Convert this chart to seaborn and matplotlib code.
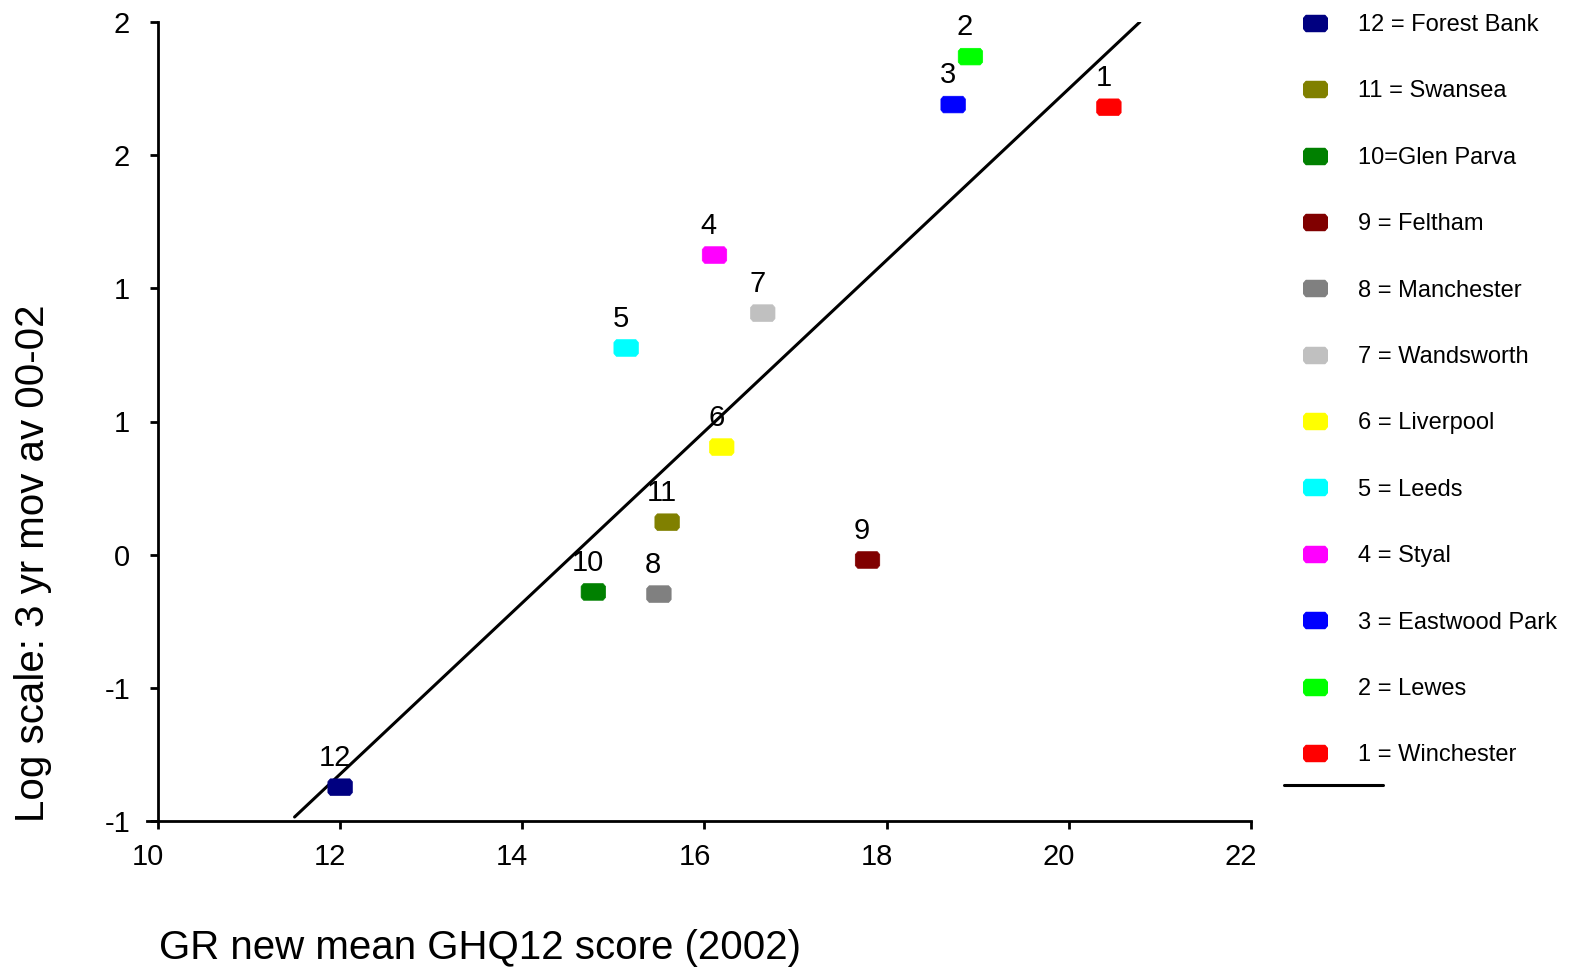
import matplotlib
matplotlib.use("Agg")
import matplotlib.pyplot as plt
import matplotlib.transforms as mtransforms
from matplotlib.lines import Line2D
import seaborn as sns
import pandas as pd

# data
prison_ids = [1, 2, 3, 4, 5, 6, 7, 8, 9, 10, 11, 12]
legend_labels = ["1 = Winchester", "2 = Lewes", "3 = Eastwood Park", "4 = Styal",
                 "5 = Leeds", "6 = Liverpool", "7 = Wandsworth", "8 = Manchester",
                 "9 = Feltham", "10=Glen Parva", "11 = Swansea", "12 = Forest Bank"]
ghq12_scores = [20.44, 18.92, 18.73, 16.11, 15.14, 16.19, 16.64, 15.50, 17.79, 14.78, 15.59, 12.00]
log_rates = [1.68, 1.87, 1.69, 1.125, 0.776, 0.404, 0.907, -0.148, -0.020, -0.140, 0.122, -0.873]
point_colors = ["#FF0000", "#00FF00", "#0000FF", "#FF00FF", "#00FFFF", "#FFFF00",
                "#C0C0C0", "#808080", "#800000", "#008000", "#808000", "#000080"]

fit_x = [11.5, 20.78]
fit_y = [-0.985, 2.0]

xticks = [10, 12, 14, 16, 18, 20, 22]
yticks = [-1.0, -0.5, 0.0, 0.5, 1.0, 1.5, 2.0]
ytick_labels = ["-1", "-1", "0", "1", "1", "2", "2"]

df = pd.DataFrame({"id": prison_ids, "label": legend_labels,
                   "ghq": ghq12_scores, "rate": log_rates})
palette = dict(zip(legend_labels, point_colors))

sns.set_style("ticks")
plt.rcParams["font.family"] = ["Liberation Sans", "DejaVu Sans"]
plt.rcParams["text.color"] = "black"
plt.rcParams["xtick.color"] = "black"
plt.rcParams["ytick.color"] = "black"
plt.rcParams["axes.edgecolor"] = "black"

# wide rounded blob like the original markers
blob = [(-1, -0.45), (-0.8, -0.68), (0.8, -0.68), (1, -0.45),
        (1, 0.45), (0.8, 0.68), (-0.8, 0.68), (-1, 0.45), (-1, -0.45)]

fig = plt.figure(figsize=(15.69, 9.73), dpi=100)
ax = fig.add_axes([147 / 1569, 1 - 821 / 973, (1251 - 147) / 1569, (821 - 22) / 973])

sns.lineplot(x=fit_x, y=fit_y, color="black", linewidth=2.2, ax=ax)
sns.scatterplot(data=df, x="ghq", y="rate", hue="label", palette=palette,
                marker=blob, s=310, edgecolor="face", linewidth=0.5,
                legend=False, ax=ax, zorder=3)

for i, x, y in zip(prison_ids, ghq12_scores, log_rates):
    ax.annotate(str(i), (x, y), xytext=(-4, 21), textcoords="offset points",
                ha="center", va="center", fontsize=21)

ax.set_xlim(9.88, 22)
ax.set_ylim(-1.0, 2.0)
ax.spines["left"].set_position(("data", 10))
ax.set_xticks(xticks)
ax.set_yticks(yticks)
ax.set_yticklabels(ytick_labels)
ax.tick_params(labelsize=21, width=2, length=6, direction="out")
ax.tick_params(axis="y", pad=14)
ax.tick_params(axis="x", pad=10)
for side in ["left", "bottom"]:
    ax.spines[side].set_linewidth(2)
sns.despine(ax=ax)
ax.set_xlabel("")
ax.set_ylabel("")

# x tick labels sit a little left of their ticks in the original
shift = mtransforms.ScaledTranslation(-0.1, 0, fig.dpi_scale_trans)
for lab in ax.get_xticklabels():
    lab.set_transform(lab.get_transform() + shift)

fig.text(480 / 1569, 1 - 948 / 973, "GR new mean GHQ12 score (2002)",
         ha="center", va="center", fontsize=29)
fig.text(33 / 1569, 1 - 563 / 973, "Log scale: 3 yr mov av 00-02",
         ha="center", va="center", rotation=90, fontsize=29)

handles = [Line2D([], [], linestyle="none", marker=blob, markersize=17,
                  markerfacecolor=c, markeredgecolor=c) for c in point_colors]
order = list(range(11, -1, -1))
fig.legend([handles[i] for i in order], [legend_labels[i] for i in order],
           loc="upper left", bbox_to_anchor=(1298 / 1569, 1 - 14 / 973),
           frameon=False, fontsize=17, labelspacing=1.88, handlelength=1.4,
           handletextpad=1.15, borderpad=0, borderaxespad=0)
fig.legend([Line2D([], [], color="black", linewidth=2.2)], [""],
           loc="center left", bbox_to_anchor=(1284 / 1569, 1 - 787 / 973),
           frameon=False, fontsize=17, handlelength=4.2, handletextpad=0,
           borderpad=0, borderaxespad=0)

fig.savefig("out.png", dpi=100)
